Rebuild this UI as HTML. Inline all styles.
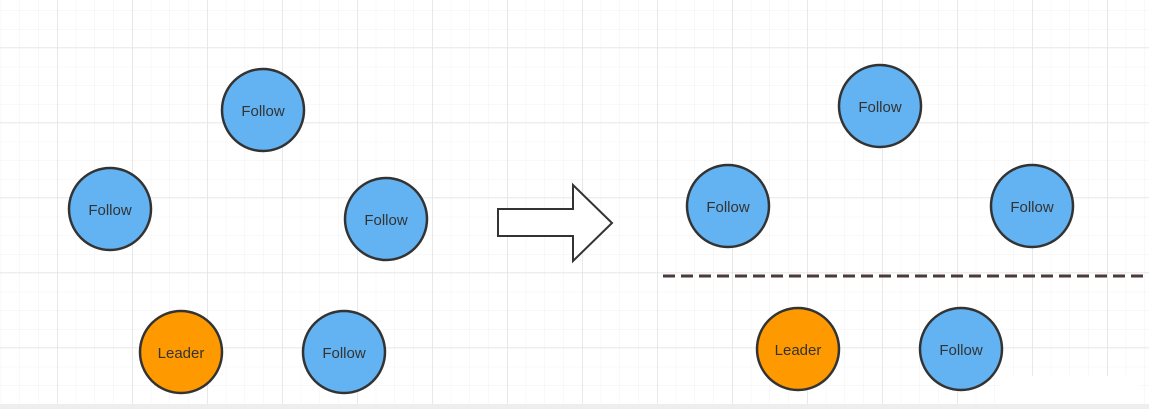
<!DOCTYPE html>
<html><head><style>
body{margin:0;width:1149px;height:409px;overflow:hidden;background:#fff}
</style></head><body>
<svg width="1149" height="409" xmlns="http://www.w3.org/2000/svg">
<defs>
<pattern id="minor" x="1.25" y="-7.75" width="18.75" height="18.75" patternUnits="userSpaceOnUse">
<path d="M18.75 0V18.75M0 18.75H18.75" stroke="#f1f1f1" stroke-width="1" fill="none"/>
</pattern>
<pattern id="major" x="-17" y="-27" width="75" height="75" patternUnits="userSpaceOnUse">
<path d="M75 0V75M0 75H75" stroke="#e3e3e3" stroke-width="1.3" fill="none"/>
</pattern>
</defs>
<rect width="1149" height="409" fill="url(#minor)"/>
<rect width="1149" height="409" fill="url(#major)"/>
<rect x="1000" y="376" width="140" height="28" fill="#fff"/>
<rect x="0" y="404" width="1149" height="5" fill="#eeeeee"/>
<g stroke="#333" stroke-width="2.5" font-family="Liberation Sans, sans-serif" font-size="15">
<circle cx="263" cy="110" r="41" fill="#63b3f3"/>
<circle cx="110" cy="209" r="41" fill="#63b3f3"/>
<circle cx="386" cy="219" r="41" fill="#63b3f3"/>
<circle cx="181" cy="352" r="41" fill="#ff9900"/>
<circle cx="344" cy="352" r="41" fill="#63b3f3"/>
<circle cx="880" cy="106" r="41" fill="#63b3f3"/>
<circle cx="728" cy="206" r="41" fill="#63b3f3"/>
<circle cx="1032" cy="206" r="41" fill="#63b3f3"/>
<circle cx="798" cy="349" r="41" fill="#ff9900"/>
<circle cx="961" cy="349" r="41" fill="#63b3f3"/>
<path d="M498 209H573V185L612 223L573 261V236H498Z" fill="#fff" stroke-width="2"/>
<line x1="663" y1="276" x2="1149" y2="276" stroke="#4a3a3a" stroke-width="3" stroke-dasharray="12,6"/>
</g>
<g font-family="Liberation Sans, sans-serif" font-size="15" fill="#333" text-anchor="middle">
<text x="263" y="116">Follow</text>
<text x="110" y="215">Follow</text>
<text x="386" y="225">Follow</text>
<text x="181" y="358">Leader</text>
<text x="344" y="358">Follow</text>
<text x="880" y="112">Follow</text>
<text x="728" y="212">Follow</text>
<text x="1032" y="212">Follow</text>
<text x="798" y="355">Leader</text>
<text x="961" y="355">Follow</text>
</g>
</svg>
</body></html>
